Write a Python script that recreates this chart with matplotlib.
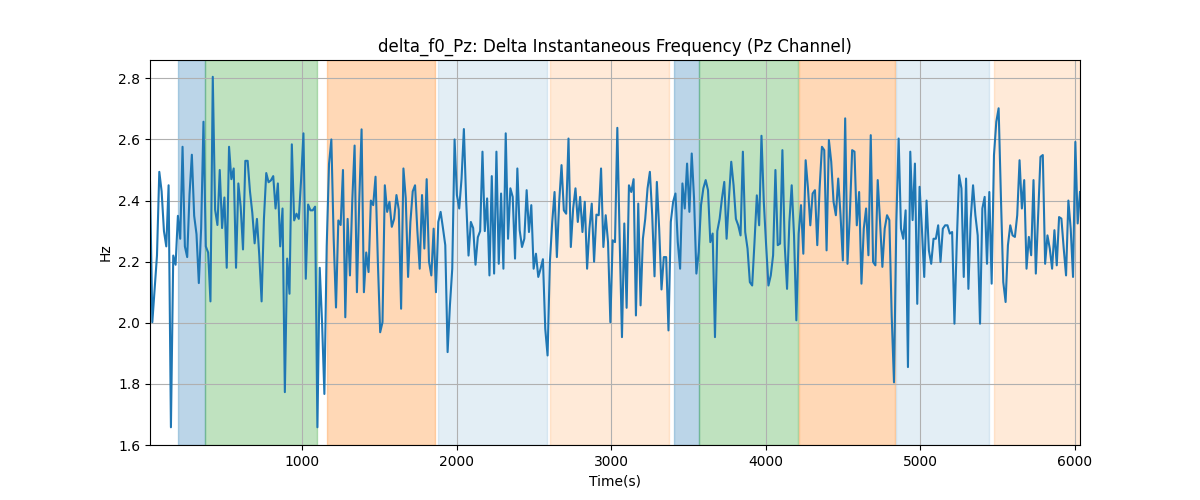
import numpy as np
import matplotlib
matplotlib.use('Agg')
import matplotlib.pyplot as plt

# --- data: delta f0 on Pz, one value every ~15 s ---
t_start = 17
t_end = 6032

seg1 = [2.461, 2.002, 2.11, 2.22, 2.494, 2.43, 2.30, 2.25, 2.45, 1.658,
        2.22, 2.19, 2.35, 2.275, 2.576, 2.25, 2.215, 2.42, 2.55, 2.35,
        2.29, 2.13, 2.31, 2.658, 2.25, 2.23, 2.07, 2.805, 2.37, 2.32,
        2.50, 2.31, 2.41, 2.18, 2.576, 2.47, 2.505, 2.18, 2.456, 2.38,
        2.24, 2.53, 2.53, 2.43, 2.36, 2.26, 2.34, 2.22, 2.07]
seg2 = [2.34, 2.49, 2.46, 2.466, 2.48, 2.374, 2.456, 2.25, 2.374, 1.773,
        2.21, 2.095, 2.584, 2.335, 2.357, 2.34, 2.47, 2.62, 2.144, 2.387,
        2.368, 2.368, 2.38, 1.658, 2.18, 2.002, 1.767, 2.25, 2.52, 2.60,
        2.275, 2.05, 2.335, 2.32, 2.50, 2.018, 2.34, 2.155, 2.40, 2.58,
        2.10, 2.40, 2.633, 2.10, 2.23, 2.166, 2.40, 2.385, 2.478]
seg3 = [2.20, 1.969, 2.002, 2.45, 2.363, 2.396, 2.314, 2.34, 2.418, 2.37,
        2.046, 2.505, 2.407, 2.15, 2.33, 2.43, 2.45, 2.30, 2.177, 2.418,
        2.243, 2.47, 2.20, 2.155, 2.308, 2.10, 2.33, 2.363, 2.31, 2.254,
        1.904, 2.057, 2.177, 2.60, 2.418, 2.374, 2.472, 2.634, 2.396, 2.22,
        2.33, 2.31, 2.19, 2.28, 2.30, 2.56, 2.30, 2.407, 2.155, 2.48]
seg4 = [2.161, 2.56, 2.193, 2.423, 2.177, 2.62, 2.275, 2.44, 2.412, 2.21,
        2.505, 2.303, 2.248, 2.275, 2.434, 2.297, 2.385, 2.177, 2.226, 2.15,
        2.177, 2.208, 1.98, 1.893, 2.20, 2.33, 2.428, 2.215, 2.396, 2.516,
        2.368, 2.357, 2.603, 2.248, 2.374, 2.44, 2.33, 2.412, 2.297, 2.396,
        2.177, 2.308, 2.39, 2.20, 2.354, 2.352, 2.505, 2.248, 2.352]
seg5 = [2.264, 2.002, 2.27, 2.264, 2.638, 2.275, 1.953, 2.325, 2.049, 2.45,
        2.428, 2.47, 2.024, 2.39, 2.057, 2.275, 2.34, 2.44, 2.494, 2.352,
        2.152, 2.461, 2.308, 2.109, 2.215, 2.215, 1.975, 2.33, 2.396, 2.423,
        2.264, 2.177, 2.456, 2.374, 2.521, 2.363, 2.554, 2.407, 2.161, 2.232,
        2.385, 2.44, 2.467, 2.434, 2.264, 2.292, 1.953, 2.30, 2.34, 2.407,
        2.461]
seg6 = [2.275, 2.407, 2.527, 2.45, 2.34, 2.319, 2.286, 2.56, 2.297, 2.243,
        2.133, 2.122, 2.264, 2.417, 2.319, 2.612, 2.396, 2.254, 2.122, 2.155,
        2.221, 2.50, 2.254, 2.259, 2.565, 2.254, 2.111, 2.33, 2.45, 2.286,
        2.008, 2.292, 2.385, 2.226, 2.532, 2.44, 2.319, 2.423, 2.434, 2.254,
        2.44, 2.576, 2.565, 2.237, 2.598, 2.527, 2.396, 2.352, 2.472]
seg7 = [2.352, 2.204, 2.669, 2.193, 2.352, 2.565, 2.56, 2.319, 2.428, 2.128,
        2.308, 2.374, 2.221, 2.614, 2.199, 2.188, 2.467, 2.33, 2.183, 2.308,
        2.352, 2.336, 2.024, 1.805, 2.33, 2.603, 2.308, 2.275, 2.368, 1.855,
        2.56, 2.336, 2.521, 2.062, 2.445, 2.308, 2.15, 2.40, 2.237, 2.193,
        2.275, 2.275, 2.319, 2.199, 2.308, 2.319, 2.319, 2.292, 2.297, 1.997]
seg8 = [2.264, 2.483, 2.44, 2.15, 2.472, 2.111, 2.341, 2.45, 2.352, 2.286,
        1.997, 2.374, 2.412, 2.193, 2.428, 2.128, 2.549, 2.658, 2.702, 2.407,
        2.133, 2.068, 2.254, 2.319, 2.286, 2.281, 2.352, 2.532, 2.374, 2.467,
        2.177, 2.281, 2.221, 2.467, 2.161, 2.352, 2.543, 2.549, 2.193, 2.286,
        2.243, 2.177, 2.303, 2.188, 2.346, 2.341, 2.243, 2.155, 2.40, 2.308,
        2.15, 2.592, 2.325, 2.428]

f0 = np.array(seg1 + seg2 + seg3 + seg4 + seg5 + seg6 + seg7 + seg8)
time = np.linspace(t_start, t_end, len(f0))

# shaded segments: (start, end, colour, alpha)
span_start = [197, 372, 1161, 1879, 2604, 3405, 3565, 4212, 4842, 5476]
span_end = [372, 1094, 1860, 2586, 3373, 3565, 4207, 4835, 5443, 6032]
span_color = ['tab:blue', 'tab:green', 'tab:orange', 'tab:blue', 'tab:orange',
              'tab:blue', 'tab:green', 'tab:orange', 'tab:blue', 'tab:orange']
span_alpha = [0.3, 0.3, 0.3, 0.12, 0.16, 0.3, 0.3, 0.3, 0.12, 0.16]

# --- plot ---
fig, ax = plt.subplots(figsize=(12, 5))
for s, e, c, a in zip(span_start, span_end, span_color, span_alpha):
    ax.axvspan(s, e, color=c, alpha=a)
ax.plot(time, f0, color='tab:blue', linewidth=1.5)
ax.set_xlim(t_start, t_end)
ax.set_ylim(1.6, 2.86)
ax.set_title('delta_f0_Pz: Delta Instantaneous Frequency (Pz Channel)')
ax.set_xlabel('Time(s)')
ax.set_ylabel('Hz')
ax.grid(True)
fig.savefig('out.png', dpi=100)
